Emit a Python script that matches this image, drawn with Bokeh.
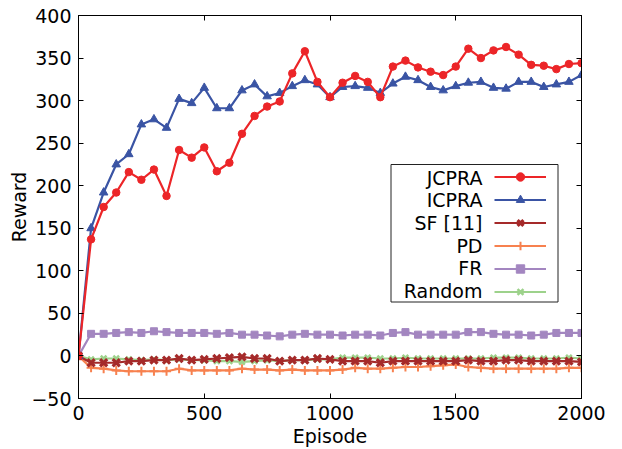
from bokeh.plotting import figure
from bokeh.models import (Range1d, FixedTicker, LinearAxis, Legend, LegendItem,
                          BoxAnnotation, Label)
from bokeh.embed import file_html
from bokeh.resources import INLINE

# ---------------- data ----------------
episodes = list(range(0, 2001, 50))

jcpra = [0, 137, 175, 192, 216, 207, 219, 188, 242, 233, 245, 217, 227, 261, 282, 293,
         299, 332, 358, 322, 304, 321, 329, 322, 304, 340, 347, 339, 334, 330, 340, 361,
         350, 359, 363, 354, 342, 341, 337, 343, 344]
icpra = [0, 150, 192, 225, 237, 272, 278, 268, 302, 297, 315, 291, 291, 312, 319, 305,
         309, 317, 324, 319, 304, 316, 317, 315, 309, 320, 328, 324, 316, 312, 317, 321,
         322, 315, 314, 322, 322, 316, 319, 322, 330]
sf = [0, -8, -8, -8, -6, -6, -5, -5, -3, -5, -4, -3, -2, -1, -3, -3, -6, -5, -5, -3,
      -4, -6, -6, -6, -8, -6, -6, -6, -6, -6, -6, -5, -6, -6, -5, -5, -6, -6, -6, -6, -7]
pd_ = [0, -14, -15, -17, -18, -18, -18, -18, -15, -17, -17, -17, -17, -15, -16, -16,
       -17, -16, -17, -17, -17, -16, -14, -15, -15, -14, -13, -13, -12, -11, -10, -13,
       -14, -15, -15, -15, -15, -15, -15, -14, -14]
fr = [0, 26, 26, 27, 28, 27, 29, 28, 27, 27, 27, 26, 27, 25, 25, 24, 23, 25, 26, 25,
      25, 24, 25, 25, 24, 27, 28, 25, 25, 25, 25, 28, 28, 26, 25, 25, 24, 25, 27, 27, 27]
rnd = [0, -4, -3, -3, -4, -5, -4, -5, -4, -5, -5, -6, -6, -7, -6, -5, -6, -5, -5, -4,
       -4, -2, -2, -2, -3, -3, -2, -3, -3, -3, -3, -3, -3, -2, -2, -2, -3, -3, -3, -2, -3]

series_names = ["JCPRA", "ICPRA", "SF [11]", "PD", "FR", "Random"]
x_ticks = [0, 500, 1000, 1500, 2000]
y_ticks = [-50, 0, 50, 100, 150, 200, 250, 300, 350, 400]

# ---------------- styles ----------------
FONT = "DejaVu Sans"
styles = {
    "JCPRA":   dict(color="#ec2528", marker="circle", size=7.5, mlw=1),
    "ICPRA":   dict(color="#3a54a4", marker="triangle", size=8.5, mlw=1),
    "SF [11]": dict(color="#a52a2a", marker="x", size=10, mlw=3.2),
    "PD":      dict(color="#f7814f", marker="cross", size=9, mlw=2),
    "FR":      dict(color="#a386c0", marker="square", size=7, mlw=1),
    "Random":  dict(color="#9dd28b", marker="x", size=8, mlw=2.5),
}
values = {"JCPRA": jcpra, "ICPRA": icpra, "SF [11]": sf, "PD": pd_, "FR": fr, "Random": rnd}

p = figure(width=622, height=449, output_backend="svg", toolbar_location=None,
           x_range=Range1d(0, 2000), y_range=Range1d(-50, 400),
           min_border_left=78, min_border_right=41, min_border_top=15, min_border_bottom=48)
p.xgrid.visible = False
p.ygrid.visible = False
p.outline_line_color = "black"
p.outline_line_width = 1
p.background_fill_color = "white"
p.border_fill_color = "white"

def style_axis(ax, ticks, labels=True):
    ax.ticker = FixedTicker(ticks=ticks)
    ax.major_tick_in = 5
    ax.major_tick_out = 0
    ax.minor_tick_in = 0
    ax.minor_tick_out = 0
    ax.axis_line_color = "black"
    ax.major_tick_line_color = "black"
    ax.major_label_text_font = FONT
    if labels:
        ax.major_label_text_font_size = "19px"
        ax.major_label_text_color = "black"
    else:
        ax.major_label_text_font_size = "1px"
        ax.major_label_text_color = None
        ax.major_label_text_alpha = 0
    ax.axis_label_text_font = FONT
    ax.axis_label_text_font_size = "19px"
    ax.axis_label_text_font_style = "normal"
    ax.axis_label_text_color = "black"

style_axis(p.xaxis[0], x_ticks)
style_axis(p.yaxis[0], y_ticks)
p.xaxis[0].axis_label = "Episode"
p.yaxis[0].axis_label = "Reward"
p.xaxis[0].major_label_standoff = 7
p.xaxis[0].axis_label_standoff = 2
p.yaxis[0].major_label_standoff = 7
p.yaxis[0].axis_label_standoff = -2

top_ax = LinearAxis()
style_axis(top_ax, x_ticks, labels=False)
p.add_layout(top_ax, "above")
right_ax = LinearAxis()
style_axis(right_ax, y_ticks, labels=False)
p.add_layout(right_ax, "right")

renderers = {}
for name in reversed(series_names):
    st = styles[name]
    ys = values[name]
    ln = p.line(episodes, ys, line_color=st["color"], line_width=2.2)
    mk = p.scatter(episodes, ys, marker=st["marker"], size=st["size"],
                   fill_color=st["color"], line_color=st["color"], line_width=st["mlw"])
    renderers[name] = [ln, mk]

# ---------------- legend (labels before glyphs, as in the reference) ----------------
box = BoxAnnotation(left=312.5, right=479.5, bottom=96.5, top=234,
                    left_units="screen", right_units="screen",
                    bottom_units="screen", top_units="screen",
                    fill_color="white", fill_alpha=1.0,
                    line_color="#222222", line_width=1, line_alpha=1.0)
p.add_layout(box)

row_y = [221, 198.3, 175.6, 152.9, 130.2, 107.5]
for name, yy in zip(series_names, row_y):
    p.add_layout(Label(x=404, y=yy, x_units="screen", y_units="screen", text=name,
                       text_align="right", text_baseline="middle",
                       text_font=FONT, text_font_size="19px", text_color="black"))

legend = Legend(items=[LegendItem(label="", renderers=renderers[n]) for n in series_names],
                location=(416, 96.5), padding=0, margin=0, spacing=2,
                glyph_width=52, glyph_height=21, label_standoff=0, label_width=0,
                label_text_font_size="1px", label_text_color=None, label_text_alpha=0,
                border_line_color=None, background_fill_alpha=0)
p.add_layout(legend, "center")

open("out.html", "w").write(file_html(p, INLINE))
